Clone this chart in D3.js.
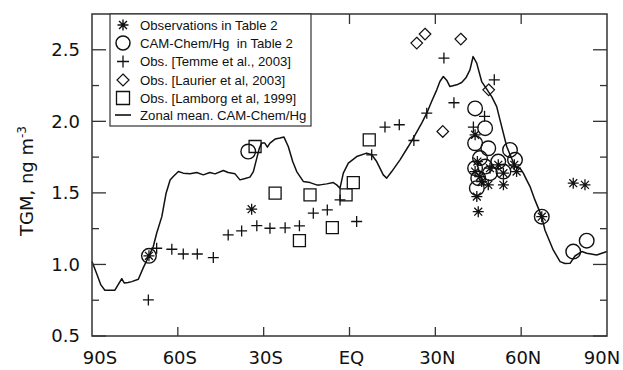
<!DOCTYPE html>
<html><head><meta charset="utf-8">
<script src="https://cdn.jsdelivr.net/npm/d3@7/dist/d3.min.js"></script>
<style>body{margin:0;background:#fff}svg{display:block}</style>
</head><body>
<svg id="c" width="623" height="370"></svg>
<script>
// Zonal mean CAM-Chem/Hg [lat, TGM]
const zonalMean = [[-90,1.02],[-88.25,0.93],[-86.9,0.857],[-85.5,0.82],[-83.7,0.82],[-82,0.82],[-80.9,0.857],[-79.6,0.90],[-78.7,0.87],[-77.4,0.874],[-76.1,0.88],[-73.8,0.896],[-72.1,0.976],[-70.1,1.06],[-68.6,1.124],[-67.4,1.218],[-65.6,1.334],[-64.1,1.498],[-62.7,1.59],[-61.6,1.614],[-59.8,1.649],[-58.1,1.638],[-55.7,1.633],[-53.4,1.642],[-51.1,1.626],[-48.8,1.642],[-47,1.633],[-44.1,1.656],[-42.4,1.642],[-40,1.633],[-38.3,1.591],[-36.5,1.6],[-34.8,1.61],[-33.6,1.649],[-32.4,1.743],[-31.5,1.813],[-30.7,1.848],[-29.6,1.848],[-28.7,1.82],[-27.8,1.848],[-26,1.876],[-24.3,1.883],[-22.9,1.89],[-21.4,1.824],[-19.85,1.719],[-18.45,1.649],[-16.1,1.579],[-13.8,1.572],[-11.5,1.556],[-10.3,1.556],[-7.97,1.563],[-5.66,1.572],[-4.47,1.556],[-3.32,1.533],[-2.16,1.638],[-0.41,1.708],[2.52,1.754],[6,1.778],[7.76,1.766],[9.5,1.719],[11.8,1.626],[13,1.603],[14.75,1.649],[17.65,1.731],[20.55,1.824],[22.3,1.883],[25.24,1.987],[27,2.057],[28.7,2.138],[30.5,2.22],[31.6,2.278],[32.8,2.313],[34.1,2.283],[35.1,2.243],[37.5,2.255],[39.2,2.271],[40.7,2.304],[42.1,2.36],[43.2,2.453],[44.46,2.407],[46.2,2.278],[47.96,2.225],[49.7,2.173],[51.45,2.103],[52.6,2.01],[54.95,1.824],[57.85,1.684],[59.6,1.672],[60.75,1.638],[61.9,1.591],[63.1,1.544],[64.8,1.451],[67.2,1.334],[68.3,1.241],[71.2,1.101],[73.6,1.02],[75.3,1.007],[77.1,1.008],[78.8,1.059],[81.2,1.09],[82.9,1.078],[86.4,1.066],[90,1.09]];
// Observations in Table 2
const obsTable2 = [[-70.1,1.06],[-34.2,1.386],[43.9,1.906],[44.7,1.719],[43.9,1.649],[45.6,1.614],[44.5,1.474],[45.0,1.369],[48.5,1.556],[52.0,1.696],[53.8,1.638],[53.8,1.556],[58.4,1.649],[49.1,1.673],[46.2,1.579],[57.6,1.696],[67.2,1.334],[78.2,1.568],[82.3,1.556]];
// CAM-Chem/Hg in Table 2
const camTable2 = [[-70.1,1.06],[-35.4,1.789],[43.9,2.09],[47.4,1.952],[43.9,1.847],[48.5,1.812],[45.6,1.743],[52.0,1.719],[56.1,1.80],[57.85,1.731],[43.9,1.673],[47.4,1.684],[53.8,1.649],[45.0,1.603],[44.5,1.533],[49.1,1.638],[67.2,1.334],[78.2,1.09],[82.9,1.166]];
// Temme et al., 2003
const temme = [[-70.3,0.752],[-67.4,1.113],[-62.1,1.106],[-58.1,1.073],[-53.2,1.073],[-47.6,1.048],[-42.4,1.206],[-37.7,1.234],[-32.4,1.271],[-27.8,1.253],[-22.5,1.256],[-17.5,1.27],[-12.65,1.358],[-7.76,1.381],[-3.3,1.451],[2.5,1.30],[7.76,1.766],[12.4,1.96],[17.4,1.976],[22.5,1.866],[27.0,2.057],[33.0,2.442],[36.5,2.13],[43.3,1.96],[47.2,2.035],[50.6,2.29]];
// Laurier et al, 2003
const laurier = [[23.5,2.547],[26.4,2.61],[38.9,2.575],[32.6,1.929],[48.65,2.22]];
// Lamborg et al, 1999
const lamborg = [[-33.0,1.824],[-26.0,1.498],[-17.5,1.166],[-13.8,1.486],[-6.0,1.257],[-1.2,1.486],[1.33,1.572],[6.9,1.87]];

const xTickVals = [-90,-60,-30,0,30,60,90];
const xTickLabels = ["90S","60S","30S","EQ","30N","60N","90N"];
const yTickVals = [0.5,1.0,1.5,2.0,2.5];
const yTickLabels = ["0.5","1.0","1.5","2.0","2.5"];
const yMinorVals = [0.75,1.25,1.75,2.25];
const legendLabels = ["Observations in Table 2","CAM-Chem/Hg  in Table 2","Obs. [Temme et al., 2003]","Obs. [Laurier et al, 2003]","Obs. [Lamborg et al, 1999]","Zonal mean. CAM-Chem/Hg"];

const L=92,R=607,T=14,B=336;
const x=d3.scaleLinear().domain([-90,90]).range([L,R]);
const y=d3.scaleLinear().domain([0.5,2.75]).range([B,T]);
const svg=d3.select("#c");
const ink="#111", frame="#333";

// symbols
const sym = {
  asterisk:(r=5.5)=>{const a=r*0.72;return `M${-r},0L${r},0M0,${-r}L0,${r}M${-a},${-a}L${a},${a}M${-a},${a}L${a},${-a}`;},
  circle:(r=7.3)=>`M${r},0A${r},${r} 0 1 1 ${-r},0A${r},${r} 0 1 1 ${r},0Z`,
  plus:(r=5.5)=>`M${-r},0L${r},0M0,${-r}L0,${r}`,
  diamond:(r=5.8)=>`M0,${-r}L${r},0L0,${r}L${-r},0Z`,
  square:(r=6)=>`M${-r},${-r}L${r},${-r}L${r},${r}L${-r},${r}Z`
};

// zonal line
svg.append("path").datum(zonalMean)
  .attr("d",d3.line().x(d=>x(d[0])).y(d=>y(d[1])).curve(d3.curveLinear))
  .attr("fill","none").attr("stroke",ink).attr("stroke-width",1.5).attr("stroke-linejoin","round");

function pts(data,p,sw){
  svg.append("g").selectAll("path").data(data).join("path")
    .attr("transform",d=>`translate(${x(d[0])},${y(d[1])})`)
    .attr("d",p).attr("fill","none").attr("stroke",ink).attr("stroke-width",sw);
}
pts(lamborg,sym.square(),1.3);
pts(laurier,sym.diamond(),1.2);
pts(temme,sym.plus(),1.3);
pts(obsTable2,sym.asterisk(),1.3);
pts(camTable2,sym.circle(),1.4);

// frame
svg.append("rect").attr("x",L).attr("y",T).attr("width",R-L).attr("height",B-T)
  .attr("fill","none").attr("stroke",frame).attr("stroke-width",1.5);

// ticks
const tk=svg.append("g").attr("stroke",frame).attr("stroke-width",1.3);
xTickVals.slice(1,-1).forEach(v=>{
  tk.append("line").attr("x1",x(v)).attr("x2",x(v)).attr("y1",B).attr("y2",B-9);
  tk.append("line").attr("x1",x(v)).attr("x2",x(v)).attr("y1",T).attr("y2",T+10);
});
yTickVals.concat(yMinorVals).forEach(v=>{
  const len = yMinorVals.includes(v)?7:14;
  tk.append("line").attr("x1",L).attr("x2",L+len).attr("y1",y(v)).attr("y2",y(v));
  tk.append("line").attr("x1",R).attr("x2",R-len).attr("y1",y(v)).attr("y2",y(v));
});

const font="'DejaVu Sans', Verdana, sans-serif";
svg.append("g").selectAll("text").data(xTickVals).join("text")
  .attr("x",(d,i)=>x(d)+(i===0?8:(i===xTickVals.length-1?-5:2))).attr("y",364)
  .attr("text-anchor","middle").attr("font-family",font).attr("font-size",18).attr("fill",ink)
  .text((d,i)=>xTickLabels[i]);
svg.append("g").selectAll("text").data(yTickVals).join("text")
  .attr("x",80).attr("y",d=>y(d)).attr("dy","0.36em")
  .attr("text-anchor","end").attr("font-family",font).attr("font-size",18).attr("fill",ink)
  .text((d,i)=>yTickLabels[i]);

// y label
const yl=svg.append("text").attr("transform","translate(33,181) rotate(-90)")
  .attr("text-anchor","middle").attr("font-family",font).attr("font-size",18).attr("fill",ink);
yl.append("tspan").text("TGM, ng m");
yl.append("tspan").attr("dy",-7).attr("font-size",12).text("-3");

// legend
const lg=svg.append("g");
lg.append("rect").attr("x",110).attr("y",T).attr("width",201).attr("height",112)
  .attr("fill","#fff").attr("stroke",frame).attr("stroke-width",1.2);
const rowsY=[25,43,61.5,80,98,115];
const legSyms=[sym.asterisk(5.5),sym.circle(7),sym.plus(6),sym.diamond(6),sym.square(6.5),"M-8,0L8,0"];
const legSW=[1.4,1.5,1.3,1.2,1.3,1.6];
rowsY.forEach((ry,i)=>{
  lg.append("path").attr("transform",`translate(123,${ry})`).attr("d",legSyms[i])
    .attr("fill","none").attr("stroke",ink).attr("stroke-width",legSW[i]);
  lg.append("text").attr("x",140).attr("y",ry).attr("dy","0.36em")
    .attr("font-family","'Liberation Sans', Arial, sans-serif").attr("font-size",13.2).attr("fill",ink)
    .attr("xml:space","preserve").text(legendLabels[i]);
});
</script>
</body></html>
